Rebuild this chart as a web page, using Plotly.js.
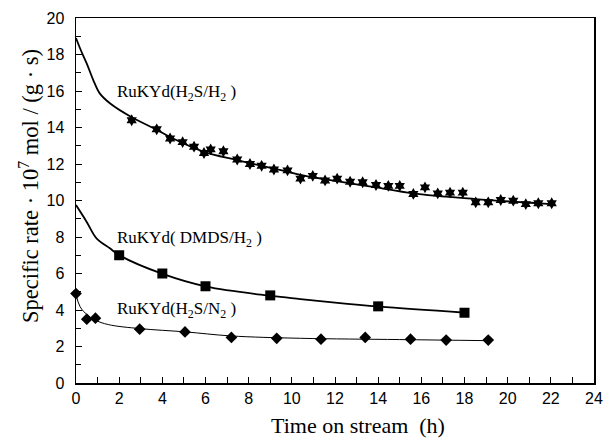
<!DOCTYPE html>
<html><head><meta charset="utf-8">
<script src="https://cdn.plot.ly/plotly-3.0.1.min.js"></script>
<style>html,body{margin:0;padding:0;background:#fff}#c{width:607px;height:439px}</style>
</head><body><div id="c"></div>
<script>
// H2S/H2 measured points
var h2sH2_t = [2.58,3.74,4.36,4.94,5.47,5.93,6.24,6.83,7.47,8.06,8.6,9.17,9.8,10.4,10.97,11.54,12.1,12.7,13.28,13.9,14.47,15.0,15.63,16.17,16.76,17.33,17.92,18.52,19.1,19.68,20.26,20.84,21.42,22.04];
var h2sH2_v = [14.4,13.9,13.4,13.2,12.95,12.6,12.8,12.7,12.25,12.0,11.9,11.7,11.65,11.2,11.35,11.1,11.2,11.03,11.0,10.85,10.8,10.8,10.36,10.72,10.39,10.43,10.43,9.9,9.9,10.03,9.99,9.8,9.85,9.85];
// H2S/H2 fitted curve
var h2sH2Fit_t = [0,0.2,0.5,0.8,1.1,1.6,2.6,3.7,4.4,5.9,7.5,9.8,10.4,12.7,13.9,15.6,18.5,21.5,22];
var h2sH2Fit_v = [18.9,18.3,17.5,16.6,15.87,15.3,14.55,13.9,13.45,12.68,12.2,11.58,11.4,10.94,10.72,10.39,10.08,9.84,9.8];
// DMDS/H2
var dmds_t = [2,4,6,9,14,18];
var dmds_v = [7.0,6.0,5.3,4.8,4.2,3.85];
var dmdsFit_t = [0,0.49,0.95,1.57,2.04,4.08,6.05,9.07,10.4,12,14.06,18.06];
var dmdsFit_v = [9.75,8.84,7.93,7.38,6.98,5.95,5.28,4.77,4.6,4.4,4.18,3.85];
// H2S/N2
var n2_t = [0,0.5,0.9,2.95,5.05,7.2,9.3,11.35,13.4,15.5,17.15,19.1];
var n2_v = [4.9,3.5,3.55,2.95,2.8,2.5,2.45,2.4,2.5,2.4,2.35,2.35];
var n2Fit_t = [0,0.19,0.52,0.88,1.5,2.97,5.08,7.17,10.4,15,19.1];
var n2Fit_v = [4.85,4.18,3.73,3.45,3.2,2.98,2.8,2.58,2.45,2.38,2.32];

var xTicks = [0,2,4,6,8,10,12,14,16,18,20,22,24];
var yTicks = [0,2,4,6,8,10,12,14,16,18,20];

var traces = [
 {x:h2sH2Fit_t,y:h2sH2Fit_v,mode:'lines',line:{color:'#000',width:1.8,shape:'spline'},cliponaxis:false},
 {x:h2sH2_t,y:h2sH2_v,mode:'markers',marker:{symbol:'hexagram',size:9,color:'#000'},cliponaxis:false},
 {x:dmdsFit_t,y:dmdsFit_v,mode:'lines',line:{color:'#000',width:1.8,shape:'spline'},cliponaxis:false},
 {x:dmds_t,y:dmds_v,mode:'markers',marker:{symbol:'square',size:10,color:'#000'},cliponaxis:false},
 {x:n2Fit_t,y:n2Fit_v,mode:'lines',line:{color:'#000',width:1,shape:'spline'},cliponaxis:false},
 {x:n2_t,y:n2_v,mode:'markers',marker:{symbol:'diamond',size:9,color:'#000'},cliponaxis:false}
];

var serif = 'Liberation Serif, Times New Roman, serif';
var sans = 'Liberation Sans, Arial, sans-serif';
// plot area in pixels: x 76..594, y 18..383
function px(x){return (x-76)/518;}
function py(y){return (383-y)/365;}
var layout = {
 width:607,height:439,showlegend:false,
 paper_bgcolor:'#fff',plot_bgcolor:'#fff',
 margin:{l:76,r:13,t:18,b:56},
 xaxis:{range:[0,24],tickvals:xTicks,ticks:'inside',ticklen:6,tickcolor:'#000',
   minor:{dtick:1,ticks:'inside',ticklen:6,tickcolor:'#000'},
   showgrid:false,zeroline:false,showline:true,mirror:true,linecolor:'#000',linewidth:1.5,
   tickfont:{family:sans,size:16,color:'#000'}},
 yaxis:{range:[0,20],tickvals:yTicks,ticks:'inside',ticklen:6,tickcolor:'#000',ticklabelstandoff:7,
   minor:{dtick:1,ticks:'inside',ticklen:5,tickcolor:'#000'},
   showgrid:false,zeroline:false,showline:true,mirror:true,linecolor:'#000',linewidth:1.5,
   tickfont:{family:sans,size:16,color:'#000'}},
 annotations:[
  {text:'Time on stream  (h)',x:px(358),y:py(425),xref:'paper',yref:'paper',xanchor:'center',yanchor:'middle',showarrow:false,font:{family:serif,size:22,color:'#000'}},
  {text:'Specific rate · 10<sup>7</sup> mol / (g · s)',x:px(29),y:py(186),xref:'paper',yref:'paper',xanchor:'center',yanchor:'middle',textangle:-90,showarrow:false,font:{family:serif,size:22.5,color:'#000'}},
  {text:'RuKYd(H<sub>2</sub>S/H<sub>2</sub> )',x:1.8,y:15.9,xref:'x',yref:'y',xanchor:'left',showarrow:false,font:{family:serif,size:17,color:'#000'}},
  {text:'RuKYd( DMDS/H<sub>2</sub> )',x:1.8,y:7.9,xref:'x',yref:'y',xanchor:'left',showarrow:false,font:{family:serif,size:17,color:'#000'}},
  {text:'RuKYd(H<sub>2</sub>S/N<sub>2</sub> )',x:1.8,y:4.0,xref:'x',yref:'y',xanchor:'left',showarrow:false,font:{family:serif,size:17,color:'#000'}}
 ]
};
Plotly.newPlot('c',traces,layout,{displayModeBar:false,staticPlot:true});
</script></body></html>
